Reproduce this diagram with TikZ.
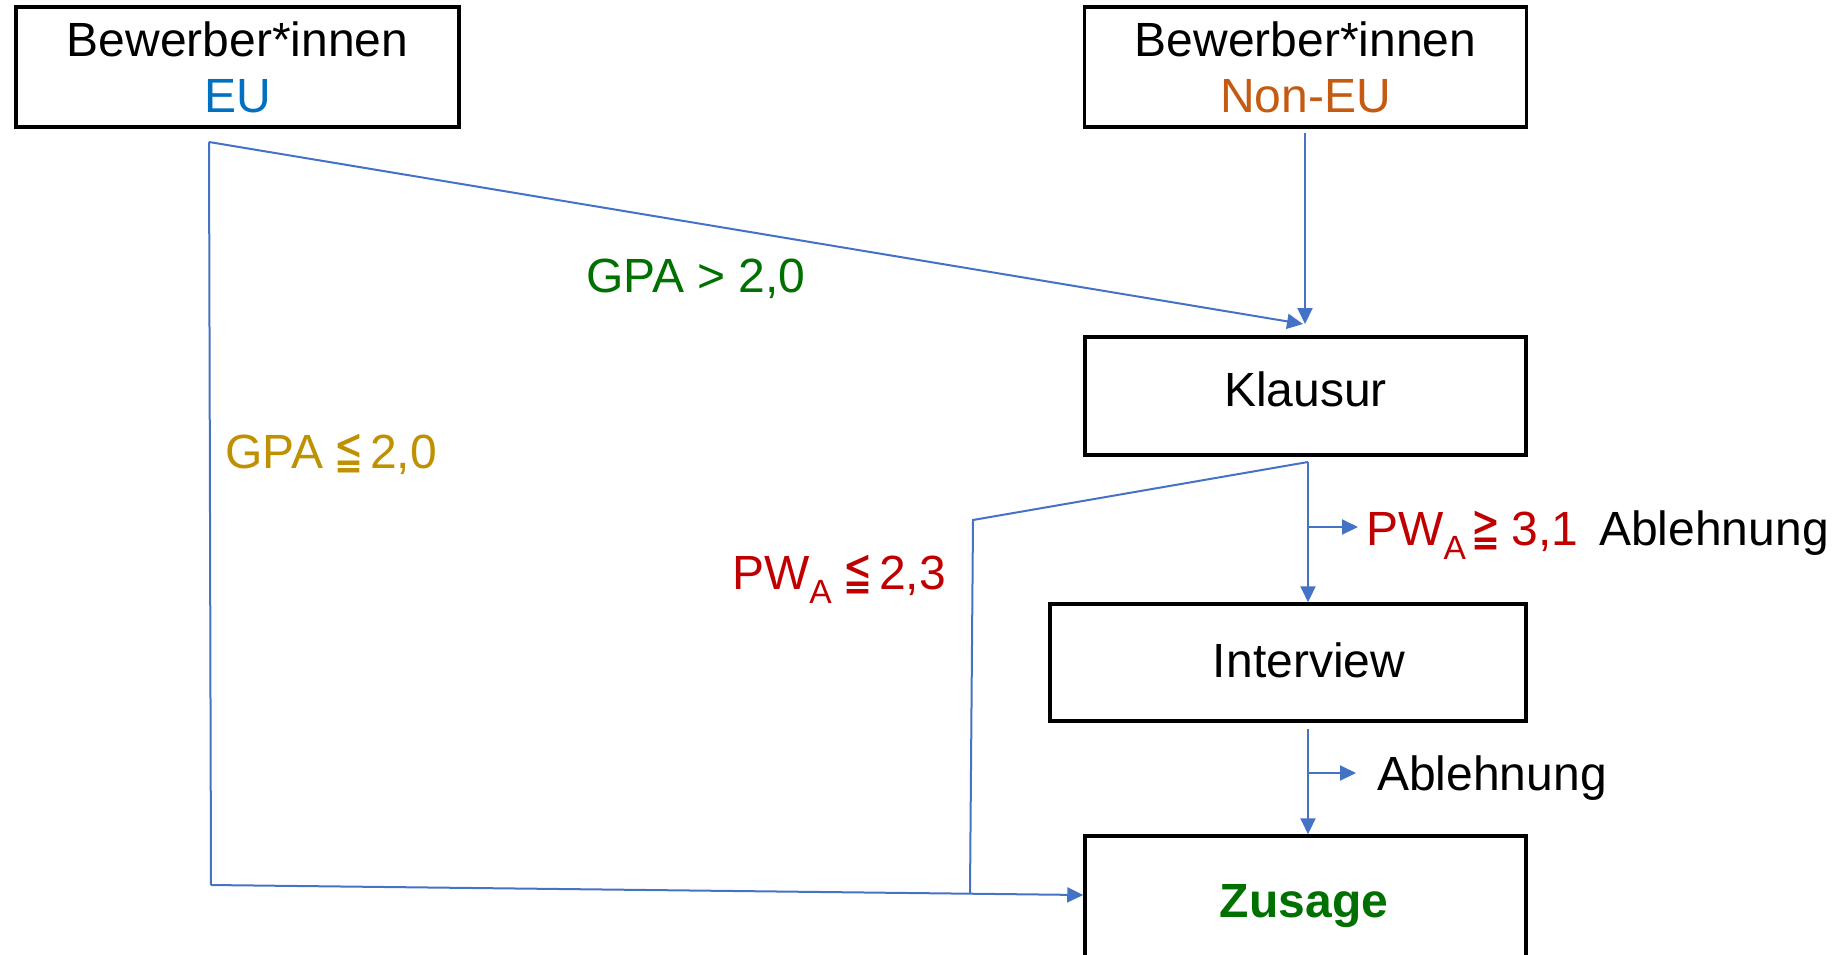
\documentclass[tikz,border=0pt]{standalone}
\usepackage{fontspec}
\usepackage{graphicx}
\setmainfont{Liberation Sans}
\newfontfamily\symfont{DejaVu Sans}
\usetikzlibrary{arrows.meta}
\definecolor{lineblue}{HTML}{4472C4}
\definecolor{eublue}{HTML}{0070C0}
\definecolor{nonorange}{HTML}{C55A11}
\definecolor{okgreen}{HTML}{007000}
\definecolor{gold}{HTML}{BF9000}
\definecolor{pwred}{HTML}{C00000}
\newcommand{\leqsym}{\scalebox{0.72}[1.12]{\symfont\char"2266}}
\newcommand{\geqsym}{\scalebox{0.72}[1.12]{\symfont\char"2267}}
\tikzset{
  box/.style={draw=black, line width=3.5pt, inner sep=0pt, rectangle},
  lbl/.style={inner sep=0pt, anchor=base, font=\fontsize{48}{56}\selectfont},
  conn/.style={draw=lineblue, line width=2pt},
  arr/.style={conn, -{Triangle[length=16pt,width=15pt]}}
}
\begin{document}
\begin{tikzpicture}[x=1pt,y=-1pt]
\useasboundingbox (0,0) rectangle (1839,954);
% boxes
\node[box, minimum width=443pt, minimum height=120pt] (eu) at (237.5,67) {};
\node[box, minimum width=442pt, minimum height=120pt] (neu) at (1305.5,67) {};
\node[box, minimum width=441pt, minimum height=118pt] (kl) at (1305.5,396) {};
\node[box, minimum width=476pt, minimum height=117pt] (iv) at (1288,662.5) {};
\node[box, minimum width=441pt, minimum height=124pt] (zu) at (1305.5,898) {};
% box texts
\node[lbl] (eut1) at (237.5,56) {Bewerber*innen};
\node[lbl, text=eublue] (eut2) at (237.5,112) {EU};
\node[lbl] (neut1) at (1305.5,56) {Bewerber*innen};
\node[lbl, text=nonorange] (neut2) at (1305.5,112) {Non-EU};
\node[lbl] (klt) at (1305.5,406) {Klausur};
\node[lbl] (ivt) at (1309,677) {Interview};
\node[lbl, text=okgreen, font=\fontsize{48}{56}\selectfont\bfseries] (zut) at (1304,917) {Zusage};
% labels
\node[lbl, text=okgreen] (gpa1) at (696,292) {GPA > 2,0};
\node[lbl, text=gold] (gpa2) at (331,468) {GPA\hspace{11pt}\leqsym\hspace{7pt}2,0};
\node[lbl, text=pwred] (pw1) at (839,589) {PW\textsubscript{A}\hspace{11pt}\leqsym\hspace{7pt}2,3};
\node[lbl, text=pwred, anchor=base west] (pw2) at (1366,545) {PW\textsubscript{A}\hspace{5pt}\geqsym\hspace{11pt}3,1};
\node[lbl, anchor=base west] (ab1) at (1599,545) {Ablehnung};
\node[lbl, anchor=base west] (ab2) at (1377,790) {Ablehnung};
% coordinates
\coordinate (euout) at (209,142);
\coordinate (eucorner) at (211,885);
\coordinate (klin) at (1303,324);
\coordinate (neuout) at (1305,133);
\coordinate (klout) at (1308,462);
\coordinate (pwbend) at (973,520);
\coordinate (pwjoin) at (970,893);
\coordinate (klbr) at (1308,527);
\coordinate (ivout) at (1308,729);
\coordinate (ivbr) at (1308,773);
% connectors
\draw[arr] (euout) -- (klin);
\draw[conn] (euout) -- (eucorner);
\draw[arr] (eucorner) -- (zu.west |- 0,895);
\draw[arr] (neuout) -- (klin -| neuout);
\draw[conn] (klout) -- (pwbend) -- (pwjoin);
\draw[arr] (klout) -- (iv.north -| klout);
\draw[arr] (klbr) -- ([xshift=-8pt]pw2.west |- klbr);
\draw[arr] (ivout) -- (zu.north -| ivout);
\draw[arr] (ivbr) -- ([xshift=-21pt]ab2.west |- ivbr);
\end{tikzpicture}
\end{document}
